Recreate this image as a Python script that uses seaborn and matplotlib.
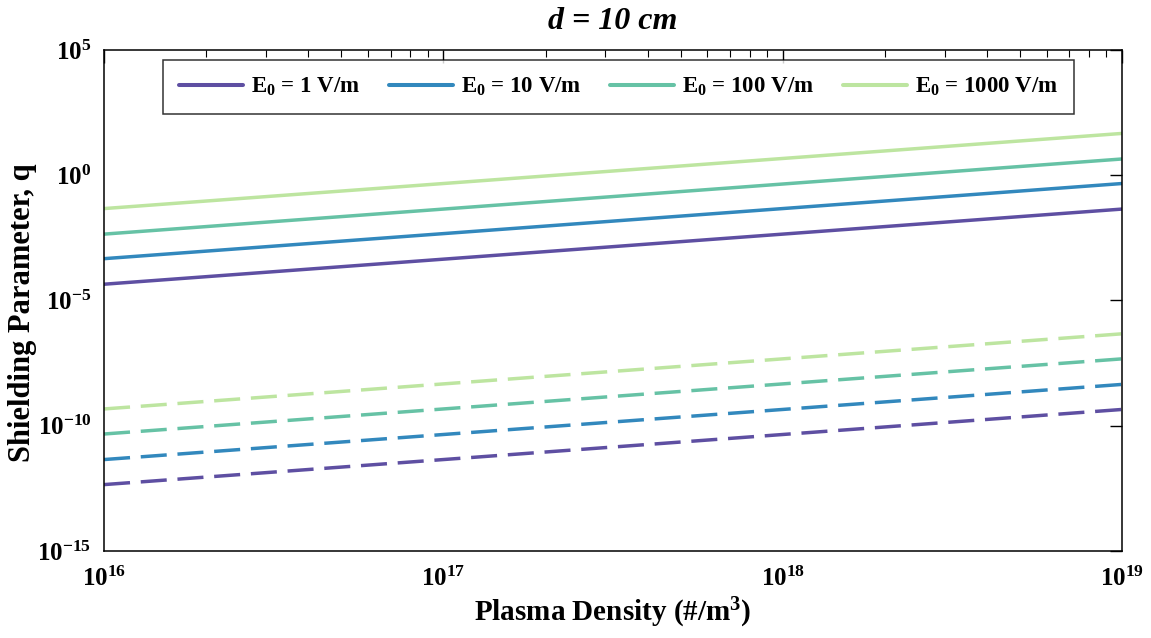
import numpy as np
import pandas as pd
import seaborn as sns
import matplotlib.pyplot as plt
from matplotlib.lines import Line2D
from matplotlib.ticker import LogLocator, NullLocator

# values (log10 of q at the two ends of each line)
density = [1e16, 1e19]
fields = ['1', '10', '100', '1000']
solid_log_q = {'1': [-4.35, -1.35], '10': [-3.33, -0.33],
               '100': [-2.35, 0.65], '1000': [-1.33, 1.67]}
dashed_log_q = {'1': [-12.35, -9.35], '10': [-11.35, -8.35],
                '100': [-10.33, -7.33], '1000': [-9.33, -6.33]}
colors = ['#5e4fa2', '#3288bd', '#66c2a5', '#bde5a0']

rows = []
for e in fields:
    for n, lq in zip(density, solid_log_q[e]):
        rows.append({'n': n, 'q': 10 ** lq, 'E0': e, 'case': 'solid'})
    for n, lq in zip(density, dashed_log_q[e]):
        rows.append({'n': n, 'q': 10 ** lq, 'E0': e, 'case': 'dashed'})
df = pd.DataFrame(rows)

sns.set_style('white')
plt.rcParams['font.family'] = ['Liberation Serif', 'DejaVu Serif']
plt.rcParams['font.weight'] = 'bold'
plt.rcParams['mathtext.fontset'] = 'custom'
plt.rcParams['mathtext.rm'] = 'Liberation Serif:bold'
plt.rcParams['mathtext.it'] = 'Liberation Serif:bold'
plt.rcParams['mathtext.bf'] = 'Liberation Serif:bold'
for k in ['text.color', 'axes.labelcolor', 'xtick.color', 'ytick.color']:
    plt.rcParams[k] = 'black'

fig = plt.figure(figsize=(11.51, 6.38), dpi=100)
ax = fig.add_axes([0.0904, 0.1364, 0.8844, 0.7852])

pal = dict(zip(fields, colors))
sns.lineplot(data=df, x='n', y='q', hue='E0', style='case',
             dashes={'solid': '', 'dashed': (7.5, 3.1)},
             palette=pal, linewidth=2.5, legend=False, ax=ax, sort=False)

ax.set_xscale('log')
ax.set_yscale('log')
ax.set_xlim(1e16, 1e19)
ax.set_ylim(1e-15, 1e5)
ax.set_yticks([1e-15, 1e-10, 1e-5, 1e0, 1e5])
ax.yaxis.set_minor_locator(NullLocator())
ax.xaxis.set_minor_locator(LogLocator(base=10, subs=np.arange(2, 10), numticks=20))
ax.tick_params(which='major', direction='in', length=9, width=1,
               top=True, right=True, labelsize=18, pad=11)
ax.tick_params(axis='y', which='major', pad=9)
ax.tick_params(which='minor', direction='in', length=5, width=0.8,
               top=True, right=True)
for s in ax.spines.values():
    s.set_linewidth(1.1)
    s.set_color('black')

ax.set_xlabel('Plasma Density (#/m$^3$)', fontsize=21, fontweight='bold', labelpad=4)
ax.set_ylabel('Shielding Parameter, q', fontsize=22, fontweight='bold')
ax.yaxis.set_label_coords(-0.066, 0.475)
ax.set_title('d = 10 cm', fontsize=23, fontweight='bold', style='italic', pad=15)

handles = [Line2D([0], [0], color=c, lw=2.9) for c in colors]
labels = [r'$\mathdefault{E_0}$ = %s V/m' % e for e in fields]
leg = ax.legend(handles, labels, ncol=4, loc='upper left',
                bbox_to_anchor=(0.058, 0.98), fontsize=16.5, frameon=True,
                fancybox=False, edgecolor='black', handlelength=2.8,
                columnspacing=1.25, handletextpad=0.35, borderpad=0.68,
                borderaxespad=0)
leg.get_frame().set_linewidth(1.1)

fig.savefig('out.png', dpi=100)
